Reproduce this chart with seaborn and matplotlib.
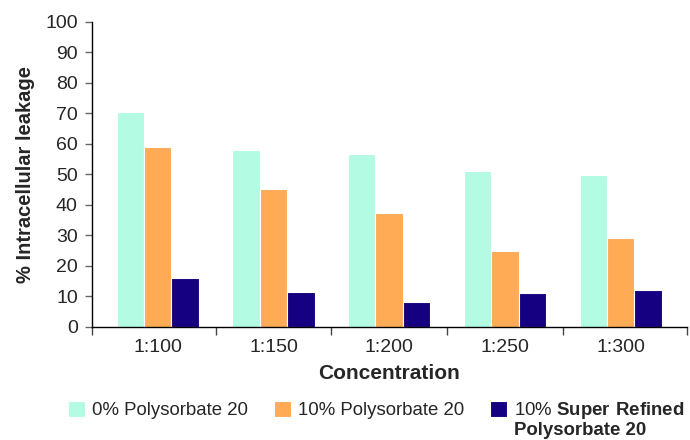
import numpy as np
import pandas as pd
import matplotlib
matplotlib.use("Agg")
import matplotlib.pyplot as plt
import seaborn as sns

sns.set_style("white")
plt.rcParams["font.family"] = ["Liberation Sans", "DejaVu Sans"]
plt.rcParams["mathtext.fontset"] = "custom"
plt.rcParams["mathtext.rm"] = "Liberation Sans"
plt.rcParams["mathtext.bf"] = "Liberation Sans:bold"

concentrations = ["1:100", "1:150", "1:200", "1:250", "1:300"]
series_names = ["0% Polysorbate 20", "10% Polysorbate 20",
                "10% $\\mathbf{Super\\ Refined}$"]
series_name_cont = "Polysorbate 20"
leak_0pct = [70.5, 58, 56.5, 51.2, 49.6]
leak_10pct = [59, 45.3, 37.2, 24.8, 29]
leak_10pct_sr = [16, 11.3, 8, 11, 12]
colors = ["#B3FBE3", "#FFAA55", "#140080"]

df = pd.DataFrame({
    "Concentration": concentrations * 3,
    "Series": np.repeat(series_names, len(concentrations)),
    "Leakage": leak_0pct + leak_10pct + leak_10pct_sr,
})

fig = plt.figure(figsize=(6.9, 4.4), dpi=100)
ax = fig.add_axes([0.1329, 0.2575, 0.8623, 0.6932])

sns.barplot(data=df, x="Concentration", y="Leakage", hue="Series",
            order=concentrations, hue_order=series_names, palette=colors,
            width=0.71, edgecolor="white", linewidth=0.8, saturation=1,
            errorbar=None, ax=ax)

ax.set_ylim(0, 100)
ax.set_xlim(-0.57, len(concentrations) - 0.43)
ax.set_yticks(range(0, 101, 10))
ax.tick_params(axis="y", labelsize=14, length=5, width=1, color="#666666",
               direction="out", left=True, pad=5)
ax.tick_params(axis="x", which="major", labelsize=14, length=0, pad=8.5)
# category boundaries, Excel style
bounds = [-0.57] + [i + 0.5 for i in range(len(concentrations) - 1)] + [len(concentrations) - 0.43]
ax.set_xticks(bounds, minor=True)
ax.tick_params(axis="x", which="minor", length=6, width=1, color="#444444",
               direction="out", bottom=True)

for side in ["top", "right"]:
    ax.spines[side].set_visible(False)
for side in ["left", "bottom"]:
    ax.spines[side].set_color("black")
    ax.spines[side].set_linewidth(1)

ax.set_xlabel("Concentration", fontsize=15, fontweight="bold", labelpad=6)
ax.set_ylabel("% Intracellular leakage", fontsize=14.5, fontweight="bold", labelpad=7)

handles, labels = ax.get_legend_handles_labels()
ax.get_legend().remove()
leg = fig.legend(handles, labels, loc="upper left", bbox_to_anchor=(0.0986, 0.09),
                 ncol=3, frameon=False, fontsize=13.4, handlelength=0.91,
                 handleheight=0.91, handletextpad=0.38, columnspacing=1.4,
                 borderaxespad=0, borderpad=0)

# second line of the third legend label, left aligned under the first line
fig.canvas.draw()
bb = leg.get_texts()[2].get_window_extent()
W, H = fig.canvas.get_width_height()
fig.text(bb.x0 / W, (bb.y0 - 1) / H, series_name_cont, fontsize=13.4,
         fontweight="bold", ha="left", va="top")

fig.savefig("out.png", dpi=100)
